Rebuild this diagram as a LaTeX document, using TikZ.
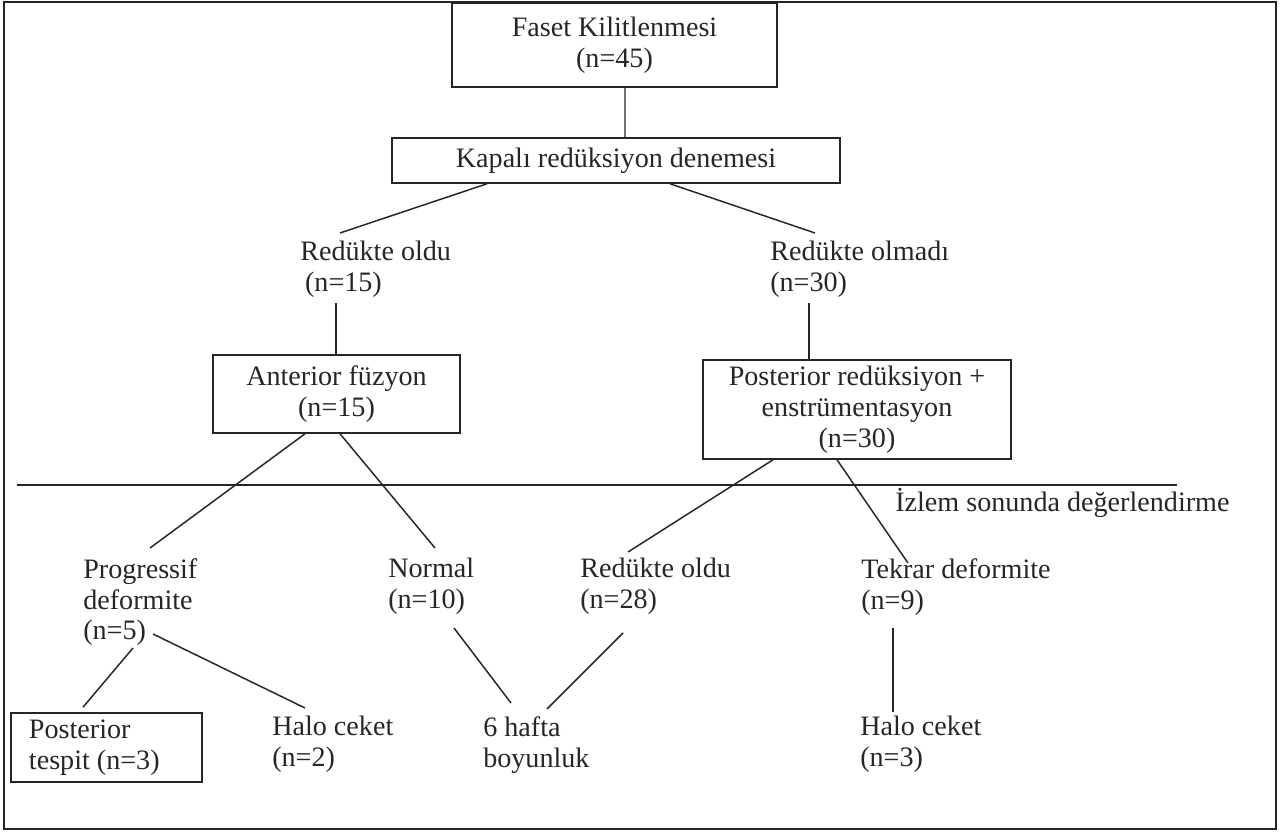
\documentclass[tikz,border=0pt]{standalone}
\usepackage{fontspec}
\setmainfont{Liberation Serif}
\usepackage{tikz}
\usetikzlibrary{calc,positioning}
\definecolor{ink}{HTML}{262626}
\tikzset{
  boxed/.style={
    rectangle,
    draw=ink,
    line width=1.1pt,
    align=center,
    inner sep=0pt
  },
  plain/.style={
    inner sep=0pt,
    align=left,
    anchor=north west
  },
  link/.style={draw=ink,line width=1.05pt},
  pageframe/.style={draw=ink,line width=1.4pt}
}

\begin{document}
\begin{tikzpicture}[x=0.025cm,y=-0.025cm,font=\fontsize{20}{22}\selectfont,text=ink]
    \useasboundingbox (0,0) rectangle (1283,832);
    \draw[pageframe] (4,2) rectangle (1276,829);

    \node[boxed,minimum width=8.125cm,minimum height=2.1cm] (faset) at (614.5,45) {Faset Kilitlenmesi\\(n=45)};
    \node[boxed,minimum width=11.2cm,minimum height=1.125cm] (kapali) at (616,160.5) {Kapalı redüksiyon denemesi};
    \node[plain] (red1) at (300,241) {Redükte oldu\\\hspace{0.12cm}(n=15)};
    \node[plain] (redn) at (770,241) {Redükte olmadı\\(n=30)};
    \node[boxed,minimum width=6.175cm,minimum height=1.95cm] (anter) at (336.5,394) {Anterior füzyon\\(n=15)};
    \node[boxed,minimum width=7.7cm,minimum height=2.475cm] (poster) at (857,409.5) {Posterior redüksiyon +\\enstrümentasyon\\(n=30)};

    % follow-up divider
    \draw[link] (17,485) -- (1177,485);
    \node[anchor=base west,inner sep=0pt] (izlem) at (895,512) {İzlem sonunda değerlendirme};

    \node[plain] (prog) at (83,558) {Progressif\\deformite\\(n=5)};
    \node[plain] (norm) at (388,558) {Normal\\(n=10)};
    \node[plain] (red28) at (580,558) {Redükte oldu\\(n=28)};
    \node[plain] (tekrar) at (861,558) {Tekrar deformite\\(n=9)};

    \node[boxed,align=flush left,text width=3.875cm,inner xsep=0.45cm,minimum height=1.725cm] (tespit) at (106.5,747.5) {Posterior\\tespit (n=3)};
    \node[plain] (halo2) at (272,716) {Halo ceket\\(n=2)};
    \node[plain] (boyun) at (483,716) {6 hafta\\boyunluk};
    \node[plain] (halo3) at (860,716) {Halo ceket\\(n=3)};

    \draw[link] ($(faset.south)+(10.5,0)$) -- ($(kapali.north)+(9,0)$);
    \draw[link] ($(kapali.south)+(-129,0)$) -- ($(red1.north west)+(40,-8)$);
    \draw[link] ($(kapali.south)+(54,0)$) -- ($(redn.north west)+(45,-8)$);
    \draw[link] ($(red1.north west)+(36,62)$) -- ($(anter.north)+(-0.5,0)$);
    \draw[link] ($(redn.north west)+(39,62)$) -- ($(poster.north)+(-48,0)$);

    \draw[link] ($(anter.south)+(-31.5,0)$) -- ($(prog.north west)+(67,-10)$);
    \draw[link] ($(anter.south)+(3.5,0)$) -- ($(norm.north west)+(47,-10)$);
    \draw[link] ($(poster.south)+(-84,0)$) -- ($(red28.north west)+(48,-6)$);
    \draw[link] ($(poster.south)+(-20,0)$) -- ($(tekrar.north west)+(47,5)$);

    \draw[link] ($(prog.north west)+(50,90)$) -- ($(tespit.north)+(-23.5,-5)$);
    \draw[link] ($(prog.north west)+(70,76)$) -- ($(halo2.north west)+(33,-8)$);
    \draw[link] ($(norm.north west)+(66,70)$) -- ($(boyun.north west)+(28,-13)$);
    \draw[link] ($(red28.north west)+(43,75)$) -- ($(boyun.north west)+(64,-7)$);
    \draw[link] ($(tekrar.north west)+(32,70)$) -- ($(halo3.north west)+(33,-4)$);
\end{tikzpicture}
\end{document}
